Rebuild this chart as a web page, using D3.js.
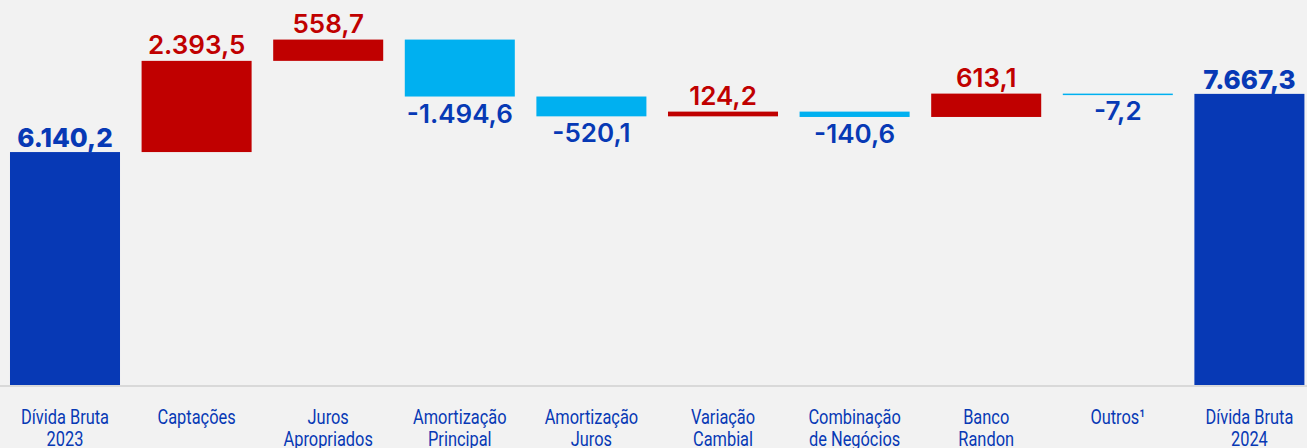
<!DOCTYPE html>
<html>
<head>
<meta charset="utf-8">
<script src="https://cdn.jsdelivr.net/npm/d3@7"></script>
<style>
  html, body { margin: 0; padding: 0; background: #f2f2f2; }
  svg { display: block; }
</style>
</head>
<body>
<svg id="chart" width="1307" height="448"></svg>
<script>
// categories (two lines each) and the step values of the waterfall
var categories = [
  ["Dívida Bruta", "2023"],
  ["Captações", ""],
  ["Juros", "Apropriados"],
  ["Amortização", "Principal"],
  ["Amortização", "Juros"],
  ["Variação", "Cambial"],
  ["Combinação", "de Negócios"],
  ["Banco", "Randon"],
  ["Outros¹", ""],
  ["Dívida Bruta", "2024"]
];
var values = [6140.2, 2393.5, 558.7, -1494.6, -520.1, 124.2, -140.6, 613.1, -7.2, 7667.3];
var kinds = ["total", "step", "step", "step", "step", "step", "step", "step", "step", "total"];
var valueLabels = ["6.140,2", "2.393,5", "558,7", "-1.494,6", "-520,1", "124,2", "-140,6", "613,1", "-7,2", "7.667,3"];

var W = 1307, H = 448;
var svg = d3.select("#chart");

// build start/end of every bar
var rows = [];
var run = 0;
values.forEach(function (v, i) {
  var r = { i: i, v: v, kind: kinds[i], label: valueLabels[i], cat: categories[i] };
  if (r.kind === "total") { r.y0 = 0; r.y1 = v; run = v; }
  else { r.y0 = run; r.y1 = run + v; run = run + v; }
  rows.push(r);
});

var x = d3.scaleBand()
  .domain(d3.range(values.length))
  .range([-0.8, 1315.2])
  .paddingInner(0.164)
  .paddingOuter(0.082);

var y = d3.scaleLinear().domain([0, 10000]).range([386, 5]);

function color(d) {
  if (d.kind === "total") return "#0739b5";
  return d.v >= 0 ? "#c00000" : "#00b0f0";
}

// bars
svg.selectAll("rect.bar")
  .data(rows)
  .enter()
  .append("rect")
  .attr("class", "bar")
  .attr("x", function (d) { return x(d.i); })
  .attr("width", x.bandwidth())
  .attr("y", function (d) { return y(Math.max(d.y0, d.y1)); })
  .attr("height", function (d) { return Math.max(1.5, Math.abs(y(d.y0) - y(d.y1))); })
  .attr("fill", color);

// baseline
svg.append("line")
  .attr("x1", 0).attr("x2", W)
  .attr("y1", y(0)).attr("y2", y(0))
  .attr("stroke", "#d9d9d9").attr("stroke-width", 2);

// value labels
svg.selectAll("text.val")
  .data(rows)
  .enter()
  .append("text")
  .attr("class", "val")
  .attr("x", function (d) { return x(d.i) + x.bandwidth() / 2; })
  .attr("y", function (d) {
    if (d.v >= 0) return y(Math.max(d.y0, d.y1)) - (d.kind === "total" ? 5 : 7);
    return y(Math.min(d.y0, d.y1)) + 26;
  })
  .attr("text-anchor", "middle")
  .attr("font-family", "Inter, sans-serif")
  .attr("font-size", 26)
  .attr("font-weight", function (d) { return d.kind === "total" ? 800 : 600; })
  .attr("fill", function (d) { return (d.kind === "step" && d.v >= 0) ? "#c00000" : "#0739b5"; })
  .text(function (d) { return d.label; });

// category labels (narrow look: squeeze horizontally)
var cats = svg.selectAll("text.cat")
  .data(rows)
  .enter()
  .append("text")
  .attr("class", "cat")
  .attr("transform", function (d) { return "translate(" + (x(d.i) + x.bandwidth() / 2) + ",0) scale(0.82,1)"; })
  .attr("text-anchor", "middle")
  .attr("font-family", "Roboto, sans-serif")
  .attr("font-size", 20)
  .attr("fill", "#0739b5");

cats.append("tspan")
  .attr("x", 0)
  .attr("y", 424)
  .text(function (d) { return d.cat[0]; });
cats.append("tspan")
  .attr("x", 0)
  .attr("y", 446)
  .text(function (d) { return d.cat[1]; });
</script>
</body>
</html>
